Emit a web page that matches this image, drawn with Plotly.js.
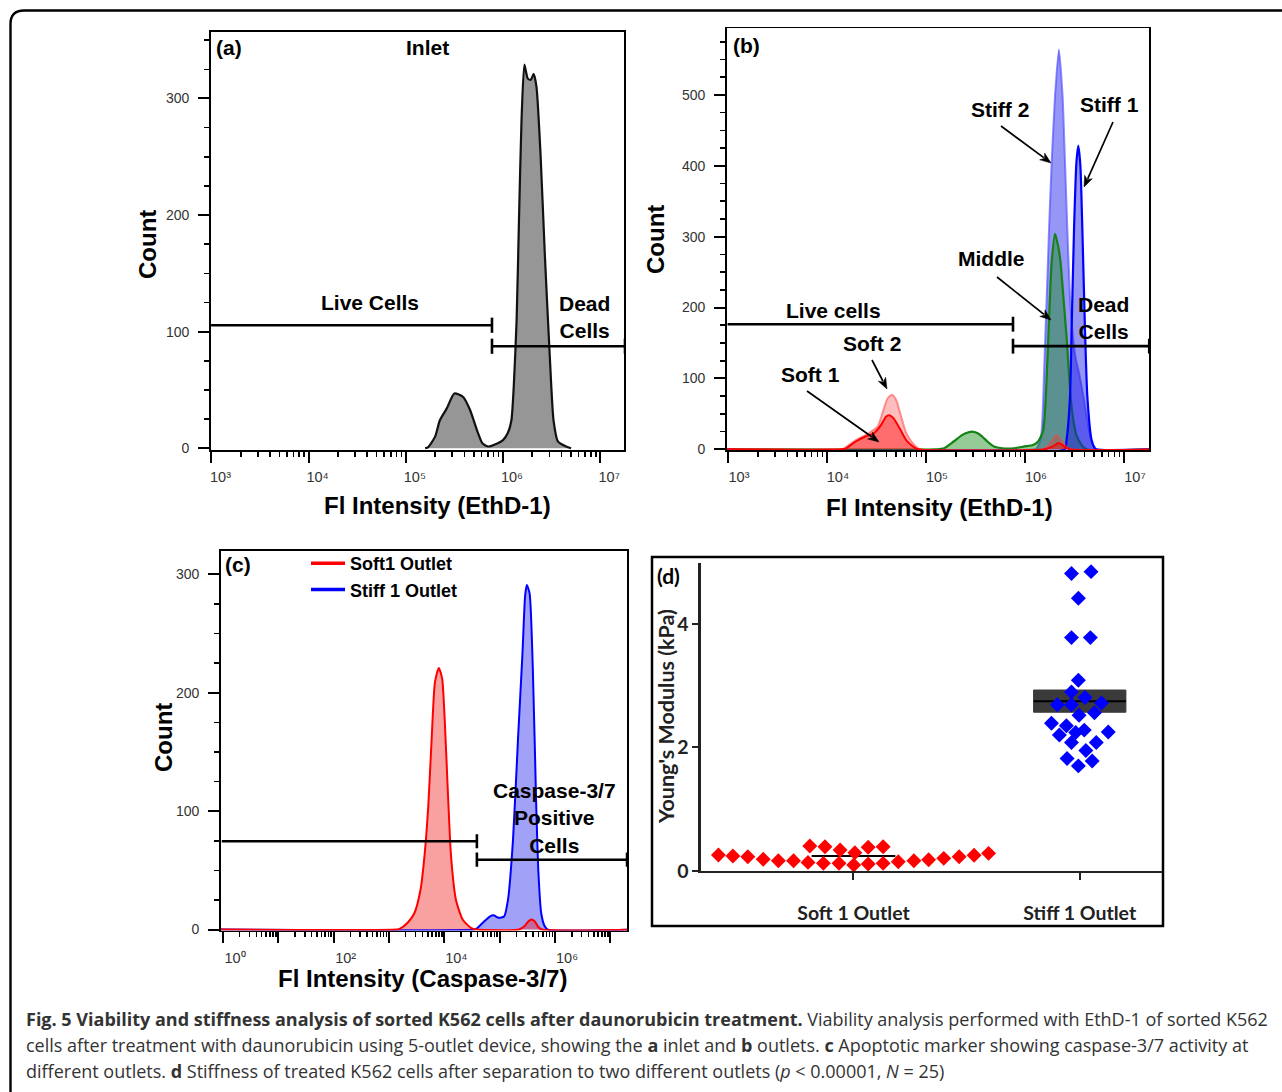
<!DOCTYPE html>
<html><head><meta charset="utf-8">
<script src="https://cdn.plot.ly/plotly-3.0.1.min.js"></script>
<style>html,body{margin:0;padding:0;background:#fff;} #chart{width:1282px;height:1092px;}</style>
</head><body><div id="chart"></div>
<script>
// ---------------- DATA ----------------
// (a) Inlet, EthD-1 intensity histogram
const inletIntensity = [1.58e5, 1.70e5, 2.00e5, 2.24e5, 2.63e5, 3.16e5, 3.89e5, 4.57e5, 5.37e5, 6.17e5, 7.08e5, 8.13e5, 1.00e6, 1.12e6, 1.22e6, 1.29e6, 1.38e6, 1.46e6, 1.55e6, 1.66e6, 1.80e6, 1.93e6, 2.07e6, 2.21e6, 2.43e6, 2.69e6, 3.02e6, 3.31e6, 3.67e6, 4.47e6, 5.01e6];
const inletCount = [0, 1, 10, 24, 34, 47, 44, 33, 16, 4, 1.5, 3, 7, 13, 24, 53, 110, 196, 281, 329, 317, 316, 321, 310, 253, 167, 81, 24, 6, 1.5, 0];

// (b) Outlets, EthD-1 intensity histograms
const stiff2Intensity = [800, 1.26e6, 1.31e6, 1.44e6, 1.51e6, 1.57e6, 1.66e6, 1.75e6, 1.86e6, 2.01e6, 2.20e6, 2.40e6, 2.54e6, 2.68e6, 2.85e6, 3.02e6, 3.24e6, 3.55e6, 3.89e6, 4.27e6, 4.68e6, 5.13e6, 2e7];
const stiff2Count = [0, 0, 1.5, 13, 51, 121, 216, 310, 404, 498, 564, 498, 404, 310, 216, 165, 130, 105, 75, 40, 12, 0, 0];
const stiff1Intensity = [800, 2.51e6, 2.63e6, 2.85e6, 2.96e6, 3.13e6, 3.31e6, 3.46e6, 3.63e6, 3.80e6, 4.04e6, 4.27e6, 4.71e6, 5.01e6, 5.25e6, 2e7];
const stiff1Count = [0, 0, 13, 74, 169, 310, 405, 428, 400, 310, 169, 74, 13, 3, 0, 0];
const middleIntensity = [800, 1.26e5, 1.50e5, 1.90e5, 2.31e5, 2.69e5, 2.92e5, 3.29e5, 3.70e5, 4.17e5, 4.86e5, 5.89e5, 7.76e5, 9.86e5, 1.21e6, 1.36e6, 1.53e6, 1.68e6, 1.76e6, 1.86e6, 2.01e6, 2.17e6, 2.29e6, 2.44e6, 2.63e6, 2.74e6, 2.89e6, 3.08e6, 3.31e6, 3.73e6, 4.17e6, 2e7];
const middleCount = [0, 0, 1, 11, 20, 24, 25, 23, 18, 11, 4, 1.5, 1.5, 4, 6, 11, 27, 121, 192, 263, 304, 286, 263, 216, 159, 121, 74, 41, 20, 6, 0, 0];
const soft1Intensity = [800, 1.41e4, 1.54e4, 1.95e4, 2.45e4, 3.00e4, 3.51e4, 3.94e4, 4.27e4, 4.69e4, 5.40e4, 6.31e4, 7.40e4, 8.32e4, 1.58e6, 1.91e6, 2.19e6, 2.51e6, 2.82e6, 2e7];
const soft1Count = [0, 0, 1, 11, 18, 23, 34, 46, 48, 44, 30, 13, 4, 0, 0, 4, 9, 4, 0, 0];
const soft2Intensity = [800, 1.38e4, 1.48e4, 1.95e4, 2.66e4, 3.24e4, 3.63e4, 4.10e4, 4.54e4, 4.99e4, 5.62e4, 6.31e4, 7.41e4, 8.71e4, 1.51e6, 1.74e6, 2.00e6, 2.09e6, 2.29e6, 2.63e6, 2.88e6, 2e7];
const soft2Count = [0, 0, 1, 13, 23, 32, 51, 72, 77, 70, 46, 23, 8, 0, 0, 6, 18, 20, 14, 3, 0, 0];

// (c) Caspase-3/7 intensity histograms
const casSoftIntensity = [0.63, 1410, 1550, 2190, 2880, 3720, 4370, 5130, 5890, 6760, 7940, 9120, 1.02e4, 1.15e4, 1.32e4, 1.62e4, 2.14e4, 3.02e4, 3.80e4, 2.24e5, 2.82e5, 3.31e5, 3.72e5, 4.27e5, 5.01e5, 5.75e5, 3.2e7];
const casSoftCount = [0, 0, 0.5, 6, 14, 34, 62, 105, 161, 209, 221, 212, 175, 119, 62, 25, 8.5, 1.4, 0, 0, 3, 7, 8.5, 7, 2, 0, 0];
const casStiffIntensity = [0.63, 3.55e4, 3.76e4, 5.01e4, 6.61e4, 7.76e4, 9.55e4, 1.20e5, 1.41e5, 1.74e5, 2.14e5, 2.57e5, 2.88e5, 3.09e5, 3.47e5, 3.98e5, 4.57e5, 5.01e5, 5.62e5, 6.46e5, 7.41e5, 3.2e7];
const casStiffCount = [0, 0, 0.5, 6, 11, 12, 10, 11, 25, 76, 161, 232, 282, 291, 284, 218, 105, 48, 14, 3, 0, 0];

// gates (intensity limits, count level)
const gateA = {liveEnd: 7.7e5, liveLevel: 105.5, deadLevel: 87.5, deadEnd: 1.8e7, tick: 6.5};
const gateB = {liveEnd: 7.57e5, liveLevel: 176.5, deadLevel: 145.5, deadEnd: 1.8e7, tick: 10.5};
const gateC = {liveEnd: 3.87e4, liveLevel: 74.6, deadLevel: 59, deadEnd: 2.0e7, tick: 6};

// (d) Young's modulus (kPa), swarm x = category index + offset
const categories = ["Soft 1 Outlet", "Stiff 1 Outlet"];
const softSwarmX = [-0.597, -0.533, -0.467, -0.399, -0.332, -0.265, -0.201, -0.133, -0.064, 0.001, 0.065, 0.131, 0.198, 0.267, 0.332, 0.399, 0.467, 0.533, 0.597, -0.193, -0.126, -0.059, 0.006, 0.065, 0.131];
const softModulus = [0.255, 0.238, 0.227, 0.184, 0.162, 0.162, 0.135, 0.119, 0.119, 0.092, 0.108, 0.119, 0.146, 0.162, 0.178, 0.200, 0.227, 0.249, 0.281, 0.400, 0.390, 0.335, 0.292, 0.379, 0.390];
const stiffSwarmX = [0.9635, 1.050, 0.994, 0.9635, 1.047, 0.994, 0.9635, 1.023, 0.901, 0.9635, 1.096, 0.997, 1.065, 0.875, 0.941, 1.020, 0.910, 0.982, 1.126, 0.9635, 1.073, 1.027, 0.944, 1.055, 0.994];
const stiffModulus = [4.82, 4.85, 4.42, 3.78, 3.78, 3.09, 2.90, 2.81, 2.69, 2.69, 2.72, 2.52, 2.56, 2.39, 2.35, 2.28, 2.20, 2.24, 2.25, 2.08, 2.08, 1.95, 1.82, 1.78, 1.70];
const softMean = 0.24;
const stiffMean = 2.75;
const stiffBand = [2.57, 2.93];
const meanHalfWidth = [0.185, 0.204];

// ---------------- LAYOUT HELPERS ----------------
const W = 1282, H = 1092;
const px = x => x / W;
const py = y => 1 - y / H;
const ARIAL = "Liberation Sans, Arial, sans-serif";
const LATO = "Lato, sans-serif";
const SUP = {'0': '\u2070', '1': '\u00b9', '2': '\u00b2', '3': '\u00b3', '4': '\u2074', '5': '\u2075', '6': '\u2076', '7': '\u2077'};

function decadeTicks(lo, hi, step) {
  const vals = [], text = [], minor = [], other = [];
  for (let e = lo; e <= hi; e++) {
    if ((e - lo) % step === 0) { vals.push(Math.pow(10, e)); text.push('10' + SUP[String(e)]); }
    else other.push(Math.pow(10, e));
    for (let m = 2; m <= 9; m++) minor.push(m * Math.pow(10, e));
  }
  return {vals, text, minor, other};
}
const tA = decadeTicks(3, 7, 1), tC = decadeTicks(0, 7, 2);

function logAxis(dom, range, t, anchor, shift) {
  return {
    domain: dom, type: 'log', range: range, anchor: anchor,
    tickmode: 'array', tickvals: t.vals, ticktext: t.text,
    ticks: 'outside', ticklen: 11, tickwidth: 2, tickcolor: '#000',
    minor: {tickmode: 'array', tickvals: t.minor, ticks: 'outside', ticklen: 5, tickwidth: 1.6, tickcolor: '#000'},
    showline: true, linecolor: '#000', linewidth: 1.8, mirror: true,
    showgrid: false, zeroline: false,
    ticklabelshift: shift, ticklabelstandoff: 2,
    tickfont: {family: ARIAL, size: 14.5, color: '#333'}
  };
}
function countAxis(dom, range, vals, anchor) {
  return {
    domain: dom, range: range, anchor: anchor,
    tickmode: 'array', tickvals: vals,
    ticks: 'outside', ticklen: 11, tickwidth: 2, tickcolor: '#000',
    minor: {dtick: 25, tick0: 0, ticks: 'outside', ticklen: 5, tickwidth: 1.6, tickcolor: '#000'},
    showline: true, linecolor: '#000', linewidth: 1.8, mirror: true,
    showgrid: false, zeroline: false, ticklabelstandoff: 6,
    tickfont: {family: ARIAL, size: 14, color: '#333'}
  };
}

// ---------------- TRACES ----------------
function hist(x, y, xa, ya, line, fill, w) {
  return {x: x, y: y, xaxis: xa, yaxis: ya, type: 'scatter', mode: 'lines',
    line: {color: line, width: w || 2, shape: 'spline', smoothing: 0.6},
    fill: 'tozeroy', fillcolor: fill, showlegend: false, hoverinfo: 'skip', cliponaxis: true};
}
function gate(g, xa, ya, xStart) {
  const x = [xStart, g.liveEnd, null, g.liveEnd, g.liveEnd, null, g.liveEnd, g.deadEnd, null, g.liveEnd, g.liveEnd, null, g.deadEnd, g.deadEnd];
  const y = [g.liveLevel, g.liveLevel, null, g.liveLevel - g.tick, g.liveLevel + g.tick, null, g.deadLevel, g.deadLevel, null, g.deadLevel - g.tick, g.deadLevel + g.tick, null, g.deadLevel - g.tick, g.deadLevel + g.tick];
  return {x: x, y: y, xaxis: xa, yaxis: ya, type: 'scatter', mode: 'lines',
    line: {color: '#000', width: 2.6}, showlegend: false, hoverinfo: 'skip', cliponaxis: false};
}

const traces = [
  // (a)
  hist(inletIntensity, inletCount, 'x', 'y', '#111', 'rgb(150,150,150)', 2.2),
  gate(gateA, 'x', 'y', 990),
  // (b)
  hist(stiff2Intensity, stiff2Count, 'x2', 'y2', 'rgba(70,70,255,0.6)', 'rgba(80,80,240,0.6)', 2),
  hist(middleIntensity, middleCount, 'x2', 'y2', 'rgb(20,130,20)', 'rgba(20,140,20,0.45)', 2.2),
  hist(stiff1Intensity, stiff1Count, 'x2', 'y2', 'rgb(0,0,255)', 'rgba(20,20,230,0.45)', 2.2),
  hist(soft2Intensity, soft2Count, 'x2', 'y2', 'rgba(255,70,70,0.55)', 'rgba(255,40,40,0.3)', 2),
  hist(soft1Intensity, soft1Count, 'x2', 'y2', 'rgb(255,0,0)', 'rgba(255,0,0,0.42)', 2),
  gate(gateB, 'x2', 'y2', 990),
  // (c)
  hist(casStiffIntensity, casStiffCount, 'x3', 'y3', 'rgb(0,0,255)', 'rgba(30,30,235,0.42)', 2),
  hist(casSoftIntensity, casSoftCount, 'x3', 'y3', 'rgb(255,0,0)', 'rgba(240,30,30,0.42)', 2),
  gate(gateC, 'x3', 'y3', 0.95),
  {x: [], y: [], xaxis: 'x5', yaxis: 'y3', type: 'scatter', mode: 'lines', showlegend: false, hoverinfo: 'skip'},
  {x: [null], y: [null], xaxis: 'x3', yaxis: 'y3', type: 'scatter', mode: 'lines', name: 'Soft1 Outlet', line: {color: 'rgb(255,0,0)', width: 3.5}, showlegend: true, hoverinfo: 'skip'},
  {x: [null], y: [null], xaxis: 'x3', yaxis: 'y3', type: 'scatter', mode: 'lines', name: 'Stiff 1 Outlet', line: {color: 'rgb(0,0,255)', width: 3.5}, showlegend: true, hoverinfo: 'skip'},
  // (d)
  {x: [1 - meanHalfWidth[1], 1 + meanHalfWidth[1], 1 + meanHalfWidth[1], 1 - meanHalfWidth[1], 1 - meanHalfWidth[1]],
   y: [stiffBand[0], stiffBand[0], stiffBand[1], stiffBand[1], stiffBand[0]],
   xaxis: 'x4', yaxis: 'y4', type: 'scatter', mode: 'lines', fill: 'toself', fillcolor: 'rgb(58,58,58)', line: {color: 'rgb(58,58,58)', width: 1}, showlegend: false, hoverinfo: 'skip'},
  {x: [1 - meanHalfWidth[1], 1 + meanHalfWidth[1]], y: [stiffMean, stiffMean], xaxis: 'x4', yaxis: 'y4', type: 'scatter', mode: 'lines', line: {color: '#000', width: 2}, showlegend: false, hoverinfo: 'skip'},
  {x: [-meanHalfWidth[0], meanHalfWidth[0]], y: [softMean, softMean], xaxis: 'x4', yaxis: 'y4', type: 'scatter', mode: 'lines', line: {color: '#000', width: 2}, showlegend: false, hoverinfo: 'skip'},
  {x: softSwarmX, y: softModulus, xaxis: 'x4', yaxis: 'y4', type: 'scatter', mode: 'markers', marker: {symbol: 'diamond', size: 11.5, color: '#ff0000'}, showlegend: false, hoverinfo: 'skip', cliponaxis: false},
  {x: stiffSwarmX, y: stiffModulus, xaxis: 'x4', yaxis: 'y4', type: 'scatter', mode: 'markers', marker: {symbol: 'diamond', size: 11.5, color: '#0000ff'}, showlegend: false, hoverinfo: 'skip', cliponaxis: false}
];

// ---------------- ANNOTATIONS ----------------
const ann = [];
function T(text, x, y, size, opts) {
  ann.push(Object.assign({text: text, x: px(x), y: py(y), xref: 'paper', yref: 'paper', showarrow: false,
    xanchor: 'center', yanchor: 'middle', font: {family: ARIAL, size: size, color: '#000', weight: 'bold'}}, opts || {}));
}
// (a)
T('(a)', 229, 48, 21); T('Inlet', 427, 48, 21); T('Live Cells', 370, 302, 21); T('Dead<br>Cells', 584, 317, 21);
T('Count', 148, 245, 24, {textangle: -90}); T('Fl Intensity (EthD-1)', 437, 505, 24);
// (b)
T('(b)', 746, 46, 21); T('Stiff 2', 1000, 110, 21); T('Stiff 1', 1109, 105, 21); T('Middle', 991, 258, 21);
T('Dead<br>Cells', 1103, 318, 21); T('Live cells', 833, 310, 21); T('Soft 2', 872, 343, 21); T('Soft 1', 810, 374, 21);
T('Count', 655, 240, 24, {textangle: -90}); T('Fl Intensity (EthD-1)', 939.5, 507, 24);
// (c)
T('(c)', 238, 564, 21); T('Caspase-3/7<br>Positive<br>Cells', 554, 818, 21);
T('Count', 163, 738, 24, {textangle: -90}); T('Fl Intensity (Caspase-3/7)', 422.5, 978, 24);
// (d)
T('(d)', 668, 575, 21, {font: {family: LATO, size: 21, color: '#000', weight: 'bold'}});
T("Young's Modulus (kPa)", 666, 717, 21.5, {textangle: -90, font: {family: LATO, size: 21.5, color: '#222', weight: 'bold'}});
// caption
const capFont = {family: 'Open Sans, sans-serif', size: 18, color: '#333'};
const capLines = [
  '<b>Fig. 5 Viability and stiffness analysis of sorted K562 cells after daunorubicin treatment.</b> Viability analysis performed with EthD-1 of sorted K562',
  'cells after treatment with daunorubicin using 5-outlet device, showing the <b>a</b> inlet and <b>b</b> outlets. <b>c</b> Apoptotic marker showing caspase-3/7 activity at',
  'different outlets. <b>d</b> Stiffness of treated K562 cells after separation to two different outlets (<i>p</i> &lt; 0.00001, <i>N</i> = 25)'
];
[1019, 1045, 1071].forEach((y, i) => T(capLines[i], 24, y, 18, {xanchor: 'left', align: 'left', font: capFont}));

// ---------------- SHAPES ----------------
const border = `M ${px(10.5)},${py(1100)} L ${px(10.5)},${py(24)} Q ${px(10.5)},${py(10.5)} ${px(24)},${py(10.5)} L ${px(1290)},${py(10.5)}`;
const shapes = [
  {type: 'path', xref: 'paper', yref: 'paper', path: border, line: {color: '#000', width: 2.4}},
  {type: 'rect', xref: 'paper', yref: 'paper', x0: px(652), x1: px(1163), y0: py(926), y1: py(557), line: {color: '#000', width: 2.5}}
];
// arrows for panel (b) labels: head (hx,hy) <- tail (tx,ty), page pixels
function arrow(hx, hy, tx, ty) {
  const L = Math.hypot(hx - tx, hy - ty), ux = (hx - tx) / L, uy = (hy - ty) / L;
  const hl = 11, hw = 4.2, bx = hx - ux * hl, by = hy - uy * hl;
  shapes.push({type: 'line', xref: 'paper', yref: 'paper', x0: px(tx), y0: py(ty), x1: px(bx + ux * 2), y1: py(by + uy * 2), line: {color: '#000', width: 1.7}});
  shapes.push({type: 'path', xref: 'paper', yref: 'paper', fillcolor: '#000', line: {color: '#000', width: 0.5},
    path: `M ${px(hx)},${py(hy)} L ${px(bx - uy * hw)},${py(by + ux * hw)} L ${px(bx + ux * 3)},${py(by + uy * 3)} L ${px(bx + uy * hw)},${py(by - ux * hw)} Z`});
}
arrow(1051, 163, 1001, 126); arrow(1084, 187, 1113, 122); arrow(1051, 320, 997, 277); arrow(887, 389, 872, 360); arrow(879, 442, 807, 391);

const layout = {
  width: W, height: H, margin: {l: 0, r: 0, t: 0, b: 0},
  paper_bgcolor: '#fff', plot_bgcolor: 'rgba(0,0,0,0)',
  showlegend: true, hovermode: false,
  legend: {x: px(306), y: py(545), xanchor: 'left', yanchor: 'top', bgcolor: 'rgba(0,0,0,0)', borderwidth: 0,
    font: {family: ARIAL, size: 18, color: '#000', weight: 'bold'}, itemwidth: 34, tracegroupgap: 0},
  xaxis: logAxis([px(211), px(624)], [2.995, 7.245], tA, 'y', 9),
  yaxis: countAxis([py(450), py(32)], [-1.5, 357], [0, 100, 200, 300], 'x'),
  xaxis2: logAxis([px(727), px(1149)], [2.99, 7.253], tA, 'y2', 11),
  yaxis2: countAxis([py(450), py(28.3)], [-1, 594], [0, 100, 200, 300, 400, 500], 'x2'),
  xaxis3: logAxis([px(221), px(627)], [-0.036, 7.30], tC, 'y3', 12),
  yaxis3: countAxis([py(930.5), py(550.7)], [-0.8, 320], [0, 100, 200, 300], 'x3'),
  xaxis5: {overlaying: 'x3', anchor: 'y3', side: 'bottom', type: 'log', range: [-0.036, 7.30],
    tickmode: 'array', tickvals: tC.other, showticklabels: false, ticks: 'outside', ticklen: 11, tickwidth: 2, tickcolor: '#000',
    showline: false, showgrid: false, zeroline: false},
  xaxis4: {domain: [px(701), px(1163)], range: [-0.674, 1.368], anchor: 'y4', tickmode: 'array', tickvals: [0, 1], ticktext: categories,
    ticks: 'outside', ticklen: 7, tickwidth: 2, tickcolor: '#222', showline: true, linecolor: '#222', linewidth: 2.6,
    showgrid: false, zeroline: false, ticklabelstandoff: 16, tickfont: {family: LATO, size: 19.5, color: '#222', weight: 'bold'}},
  yaxis4: {domain: [py(870.7), py(562.7)], range: [0, 4.995], anchor: 'x4', tickmode: 'array', tickvals: [0, 2, 4],
    ticks: 'outside', ticklen: 6, tickwidth: 2, tickcolor: '#222', showline: true, linecolor: '#222', linewidth: 2.6,
    showgrid: false, zeroline: false, ticklabelstandoff: 0, tickfont: {family: LATO, size: 19.5, color: '#222', weight: 'bold'}},
  annotations: ann, shapes: shapes
};

Plotly.newPlot('chart', traces, layout, {staticPlot: true, displayModeBar: false});
</script>
</body></html>
